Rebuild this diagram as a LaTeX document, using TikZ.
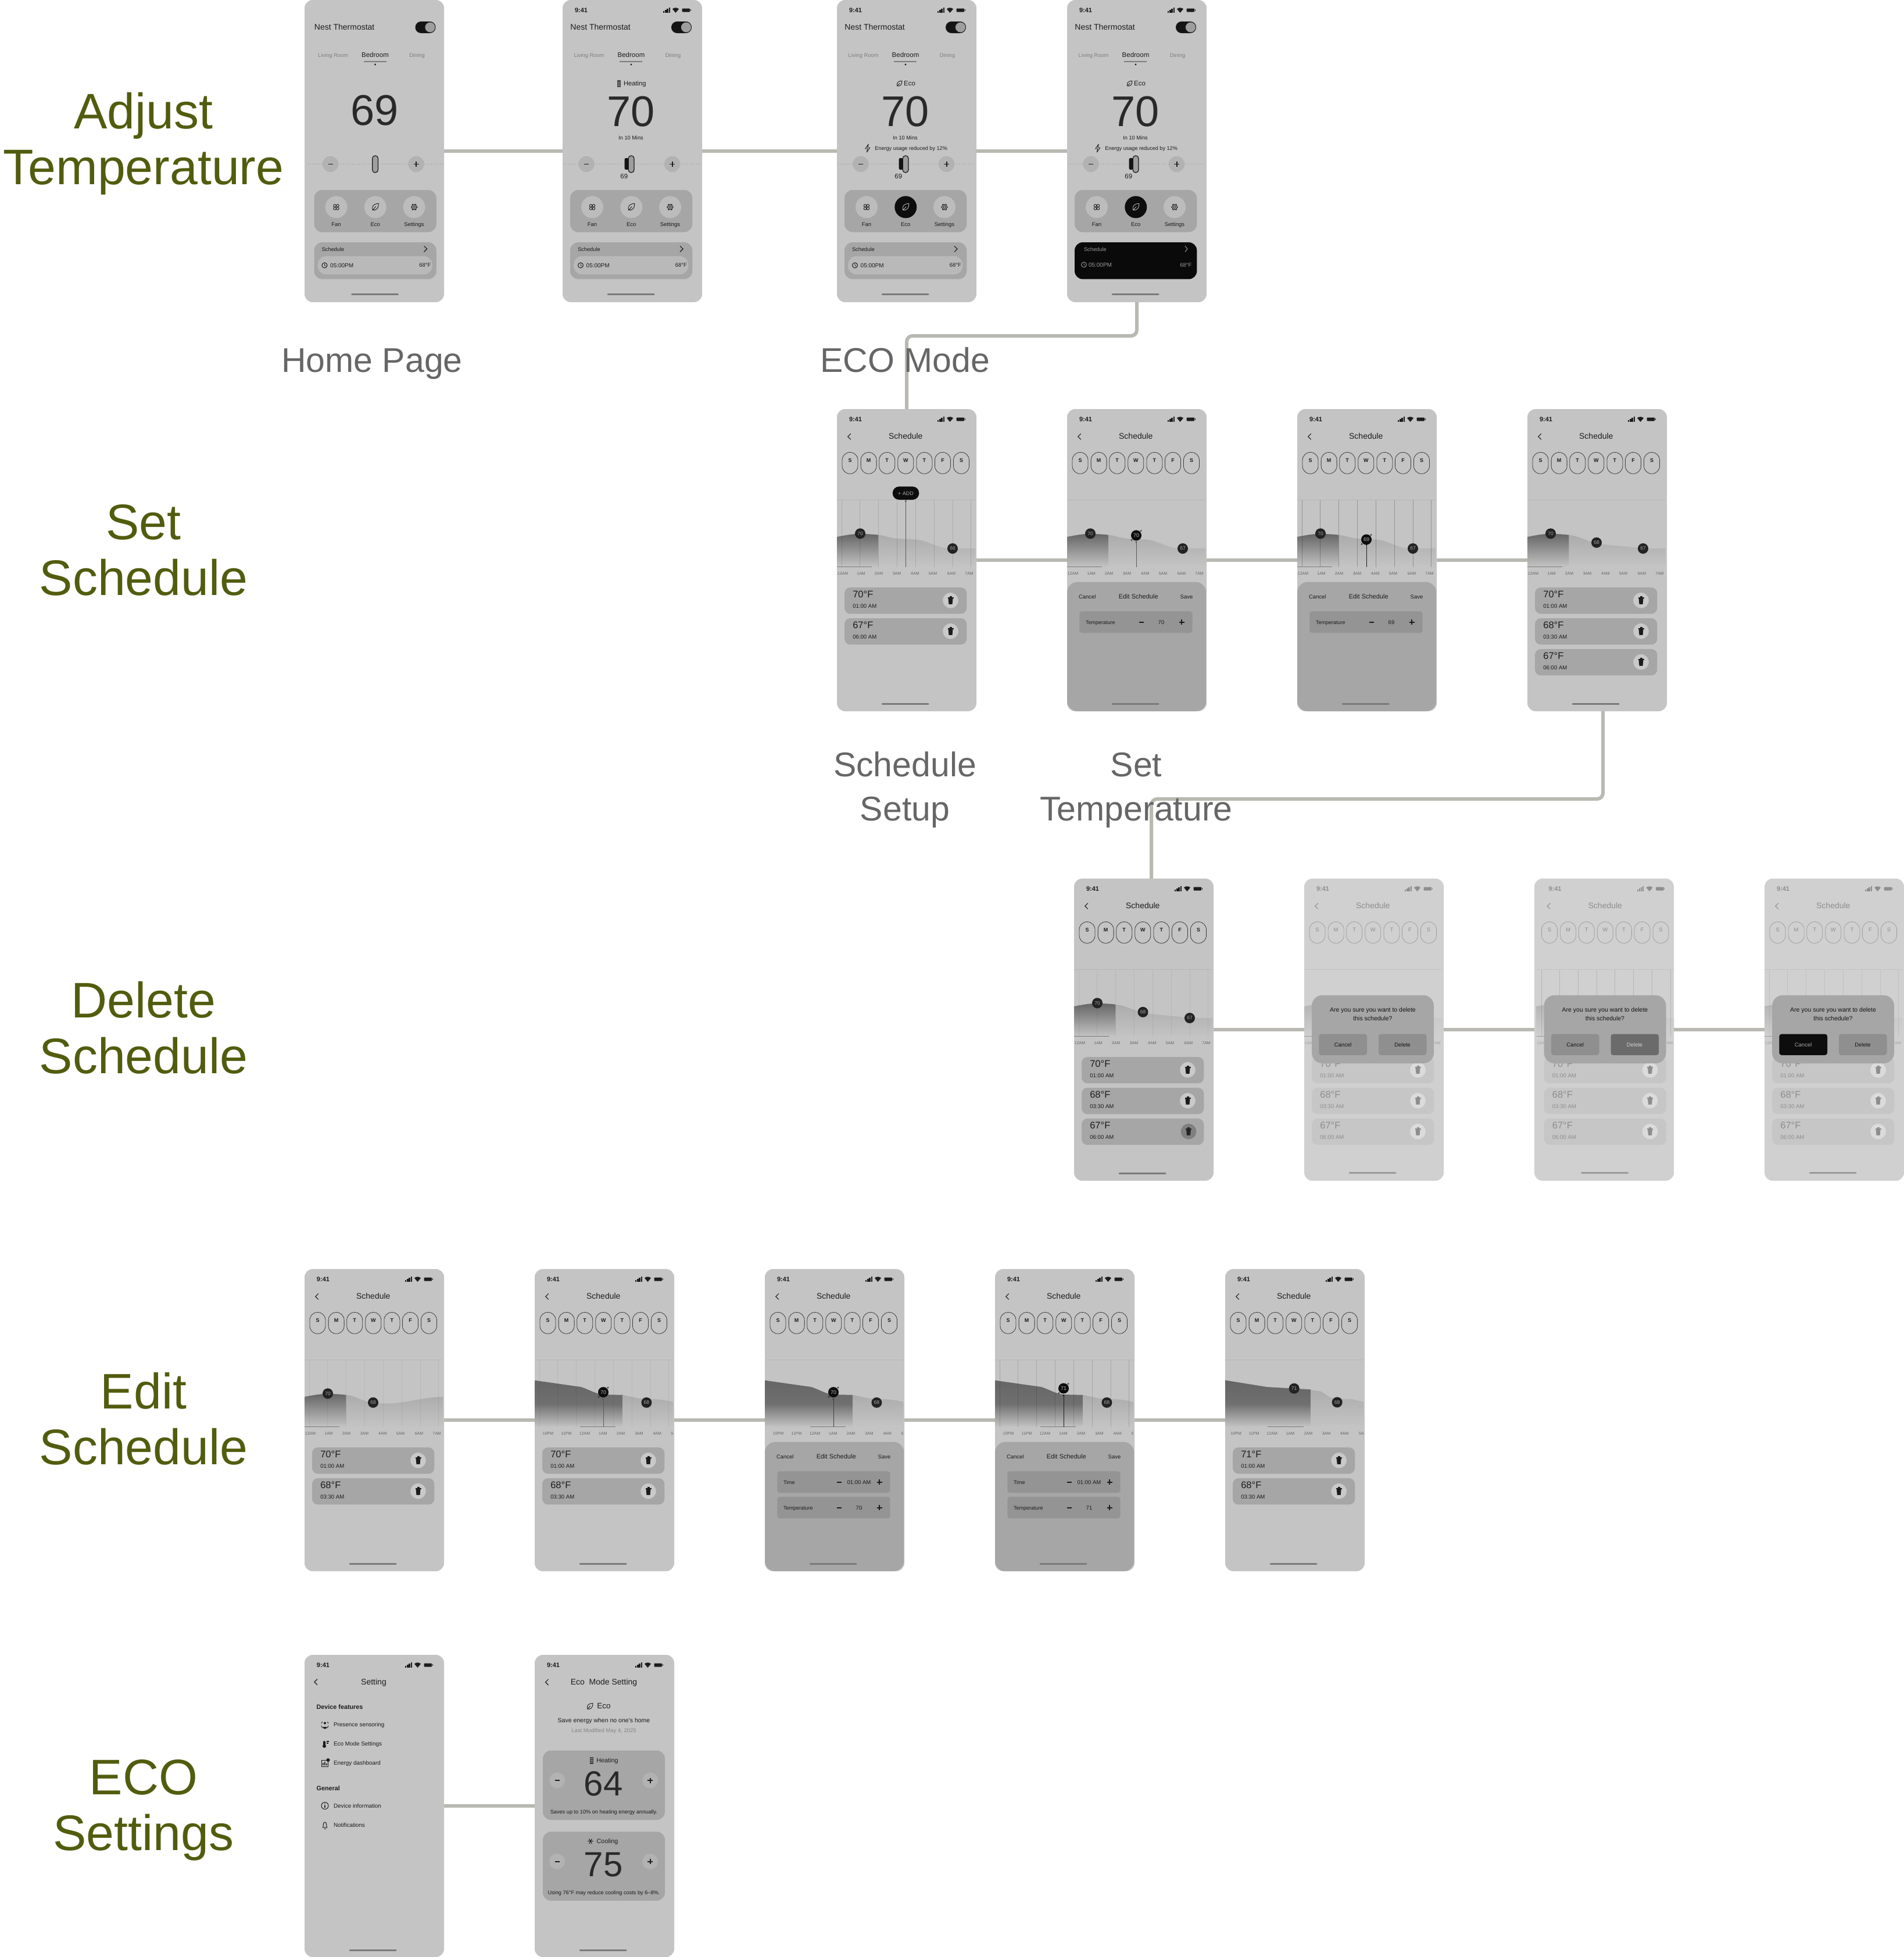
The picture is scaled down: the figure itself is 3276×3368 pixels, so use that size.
\documentclass[tikz,border=0pt]{standalone}
\usepackage{fontspec}
\setmainfont{Liberation Sans}
\definecolor{olivetxt}{HTML}{525C0E}
\definecolor{graytxt}{HTML}{666666}
\definecolor{connc}{HTML}{B9B9B2}
\newcommand\setnorm{%
 \definecolor{ink}{HTML}{1C1C1C}\definecolor{soft}{HTML}{7E7E7E}\definecolor{bgc}{HTML}{C4C4C4}%
 \definecolor{cardc}{HTML}{A6A6A6}\definecolor{circc}{HTML}{BCBCBC}\definecolor{trashc}{HTML}{C9C9C9}%
 \definecolor{dayc}{HTML}{3C3C3C}\definecolor{chd}{HTML}{666666}\definecolor{chl}{HTML}{ACACAC}%
 \definecolor{dotc}{HTML}{232323}\definecolor{barc}{HTML}{7A7A7A}\definecolor{timec}{HTML}{666666}%
 \definecolor{topl}{HTML}{B6B6B6}}
\newcommand\setfade{%
 \definecolor{ink}{HTML}{8E8E8E}\definecolor{soft}{HTML}{A0A0A0}\definecolor{bgc}{HTML}{D0D0D0}%
 \definecolor{cardc}{HTML}{C6C6C6}\definecolor{circc}{HTML}{D8D8D8}\definecolor{trashc}{HTML}{DBDBDB}%
 \definecolor{dayc}{HTML}{9A9A9A}\definecolor{chd}{HTML}{B4B4B4}\definecolor{chl}{HTML}{C6C6C6}%
 \definecolor{dotc}{HTML}{D0D0D0}\definecolor{barc}{HTML}{9A9A9A}\definecolor{timec}{HTML}{A0A0A0}%
 \definecolor{topl}{HTML}{C2C2C2}}
\setnorm
\tikzset{
 phone/.style={rectangle,rounded corners=14pt,minimum width=240pt,minimum height=520pt,inner sep=0pt,outer sep=0pt,fill=#1},
 tb/.style={inner sep=0pt,outer sep=0pt,text=ink,anchor=mid,yshift=-1pt},
 conn/.style={draw=connc,line width=6pt,rounded corners=10pt},
 hd/.style={inner sep=0pt,text=olivetxt,align=center,anchor=south,text depth=0pt,font=\fontsize{86}{96}\selectfont},
 sub/.style={inner sep=0pt,text=graytxt,align=center,anchor=south,text depth=0pt,font=\fontsize{59}{76}\selectfont},
 ic/.style={draw=ink,line width=1pt,fill=none}
}
\newcount\nctr
\newcommand\tx[5][]{\global\advance\nctr by 1 \node[tb,#1] (t\the\nctr) at (#2,#3) {\fontsize{#4}{#4}\selectfont #5};}
% icons
\newcommand\statusbar{%
 \tx[font=\bfseries]{32}{17.5}{11}{9:41}
 \foreach \i/\h in {0/3,1/5,2/7,3/9}{\fill[ink] ({173+\i*3.2},21.5) rectangle ({175.3+\i*3.2},{21.5-\h});}
 \fill[ink] (194.5,22) -- (189,15.5) .. controls (192,12.5) and (197,12.5) .. (200,15.5) -- cycle;
 \fill[ink,rounded corners=1pt] (205.5,14.5) rectangle (219,20.5);
 \fill[ink] (219.5,16.3) rectangle (220.5,18.7);}
\newcommand\homebar[1][506]{\draw[barc,line width=3pt,line cap=round] (78,#1) -- (157,#1);}
\newcommand\chev[3]{\draw[ink,line width=1.1pt] ({#1+#3*2.5},{#2-5}) -- ({#1-#3*2.5},#2) -- ({#1+#3*2.5},{#2+5});}
\newcommand\leaf[4][1]{\begin{scope}[shift={(#2,#3)},scale=#1]
 \draw[#4,line width=.9pt] (-4.5,5) .. controls (-7,-2) and (-2,-6) .. (5.5,-6) .. controls (6,1) and (2,6.5) .. (-4.5,5) -- (1,-1);\end{scope}}
\newcommand\fanic[2]{\begin{scope}[shift={(#1,#2)}]\foreach \a in {45,135,225,315}{\draw[ink,line width=.9pt] (\a:3.4) circle (2.3pt);}\end{scope}}
\newcommand\gearic[2]{\begin{scope}[shift={(#1,#2)}]\draw[ink,line width=.9pt] (0,0) circle (2pt);\draw[ink,line width=1pt] (0,0) circle (4.5pt);
 \foreach \a in {0,60,...,300}{\draw[ink,line width=1.6pt] (\a:4.2) -- (\a:6);}\end{scope}}
\newcommand\bolt[2]{\begin{scope}[shift={(#1,#2)}]\draw[ink,line width=.9pt,line join=round] (1.5,-7) -- (-4,1) -- (0,1) -- (-1.5,7) -- (4,-1) -- (0,-1) -- cycle;\end{scope}}
\newcommand\heatic[2]{\begin{scope}[shift={(#1,#2)}]\fill[ink!75!bgc] (-3,-6) rectangle (3,6);\foreach \i in {-3,0,3}{\draw[cardc,line width=.6pt] (-2,\i) -- (2,\i);}\end{scope}}
\newcommand\trashic[3][ink]{\begin{scope}[shift={(#2,#3)}]\fill[#1] (-5,-5.5) rectangle (5,-3.8);\fill[#1] (-2,-7) rectangle (2,-5.5);\fill[#1] (-4,-3.8) -- (4,-3.8) -- (3,6.5) -- (-3,6.5) -- cycle;\end{scope}}
\newcommand\minusic[2]{\draw[ink,line width=1.8pt] ({#1-4},#2) -- ({#1+4},#2);}
\newcommand\plusic[2]{\draw[ink,line width=1.8pt] ({#1-4.5},#2) -- ({#1+4.5},#2) ({#1},{#2-4.5}) -- ({#1},{#2+4.5});}
% home screen
\newcommand\tabs{%
 \tx{45.5}{95}{9.3}{\color{soft}Living Room}\tx{118}{95}{11.5}{Bedroom}\tx{190}{95}{9.3}{\color{soft}Dining}
 \draw[soft,line width=1.3pt] (98,106) -- (137,106);\fill[ink] (118,111) circle (1.6pt);}
\newcommand\homebase[2]{% #1 eco active, #2 schedule black
 \tx[anchor=mid west]{13.4}{48}{14}{Nest Thermostat}
 \fill[black!92,rounded corners=9.9pt] (187,37) rectangle (222,57);
 \fill[black!38,draw=black!92,line width=.6pt] (212.5,47) circle (9pt);
 \tabs
 \fill[cardc,rounded corners=14pt] (13,327) rectangle (223.3,399.5);
 \fill[circc] (51,356.4) circle (19pt);\fill[circc] (185,356.4) circle (19pt);
 \fanic{51}{356.4}\gearic{185}{356.4}
 \ifnum#1=1 \fill[black!95] (118.3,356.4) circle (19pt);\leaf{118.3}{356.4}{black!30}\else
  \fill[circc] (118.3,356.4) circle (19pt);\leaf{118.3}{356.4}{ink}\fi
 \tx{51}{385.7}{9.5}{Fan}\tx{118.3}{385.7}{9.5}{Eco}\tx{185}{385.7}{9.5}{Settings}
 \ifnum#2=1
  \fill[black!96,rounded corners=14pt] (13,417) rectangle (223.3,480.4);
  \tx[anchor=mid west,text=black!40]{29}{428.4}{9.3}{Schedule}
  \draw[black!40,line width=1pt] (203,423.4) -- (207,428.4) -- (203,433.4);
  \draw[black!40,line width=.9pt] (29,455.5) circle (4.5pt);\draw[black!40,line width=.7pt] (29,452.5) -- (29,455.5) -- (31,457);
  \tx[anchor=mid west,text=black!40]{37}{455.6}{10}{05:00PM}\tx[anchor=mid east,text=black!40]{214.5}{455.6}{9.5}{68°F}
 \else
  \fill[cardc,rounded corners=14pt] (13,417) rectangle (223.3,480.4);
  \tx[anchor=mid west]{26}{428.4}{9.3}{Schedule}\chev{204.6}{428.4}{-1}
  \fill[black!27.5,rounded corners=15pt] (19,440.8) rectangle (216.3,472.4);
  \draw[ink,line width=1pt] (31,456.6) circle (4.5pt);\draw[ink,line width=.8pt] (31,453.5) -- (31,456.6) -- (33,458);
  \tx[anchor=mid west]{40.7}{456.6}{10}{05:00PM}\tx[anchor=mid east]{214}{455.6}{9.5}{68°F}
 \fi
 \homebar}
\newcommand\bignum[1]{\tx[anchor=center,text=black!84]{117.5}{191}{74}{#1}}
\newcommand\inmins{\tx{117.5}{237}{9.2}{In 10 Mins}}
\newcommand\energy{\bolt{52.8}{255}\tx[anchor=mid west]{65.4}{255}{9.1}{Energy usage reduced by 12\%}}
\newcommand\slider[1]{% #1 1=with bar
 \draw[black!45,line width=.9pt,dash pattern=on 1.4pt off 2.6pt] (2,282.4) -- (238,282.4);
 \fill[black!30] (41,282.4) circle (13.7pt);\fill[black!30] (188.6,282.4) circle (13.7pt);
 \minusic{41}{282.4}\plusic{188.6}{282.4}
 \ifnum#1=1 \fill[black!92,rounded corners=2.5pt] (106.6,272) rectangle (113.6,292);
 \tx{105.8}{303.7}{11.5}{69}\fi
 \fill[black!38,draw=black!90,line width=1.2pt,rounded corners=4.4pt] (113.3,268) rectangle (122.9,297);}
% schedule screen
\newcommand\schedhead{\statusbar\chev{21.2}{47.3}{1}
 \tx{118.3}{47.7}{14}{Schedule}
 \foreach \x/\l in {22.5/S,54.6/M,86.2/T,118.3/W,150.4/T,182/F,214/S}{
  \draw[dayc,line width=.8pt,rounded corners=13.3pt] ({\x-13.5},74.5) rectangle ({\x+13.5},111.3);
  \tx[font=\bfseries]{\x}{88.3}{9}{\l}}}
\newcommand\gridl[1]{\draw[topl,line width=.8pt] (0,156.5) -- (238,156.5);
 \foreach \x in {8.6,39.8,71.5,103.6,135.2,167,199,230.6}{\draw[black,opacity=#1,line width=.7pt] (\x,156.5) -- (\x,272);}}
\newcommand\darkA{\shade[top color=chd,bottom color=bgc] (0,272) -- (0,220) .. controls (15,217) and (28,214.5) .. (40,215) .. controls (52,215) and (62,215.5) .. (71.5,216.7) -- (71.5,272) -- cycle;}
\newcommand\curveA{\darkA\shade[top color=chl,bottom color=bgc] (71.5,272) -- (71.5,216.7) .. controls (85,218) and (90,222) .. (105,223) .. controls (118,224) and (130,223) .. (145,226) .. controls (165,231) and (175,240) .. (199,240) -- (238,239.5) -- (238,272) -- cycle;}
\newcommand\curveD{\darkA\shade[top color=chl,bottom color=bgc] (71.5,272) -- (71.5,216.7) .. controls (90,219) and (105,228) .. (119,231) .. controls (140,235) and (170,236) .. (199,240) -- (238,240) -- (238,272) -- cycle;}
\newcommand\curveE{\darkA\shade[top color=chl,bottom color=bgc] (71.5,272) -- (71.5,216.7) .. controls (90,218) and (100,229) .. (118,230) .. controls (135,232) and (150,232) .. (170,229) .. controls (190,226) and (215,220) .. (238,220) -- (238,272) -- cycle;}
\newcommand\curveF{\shade[top color=chd,bottom color=bgc,middle color=chd!90!bgc] (0,272) -- (0,191.6) -- (80,203) .. controls (95,208) and (105,215) .. (118,216) -- (151,216.7) -- (151,272) -- cycle;
 \shade[top color=chl,bottom color=bgc] (151,272) -- (151,216.7) .. controls (165,219) and (175,223) .. (191,223.6) .. controls (210,223.6) and (225,225) .. (238,228.8) -- (238,272) -- cycle;}
\newcommand\curveG{\shade[top color=chd,bottom color=bgc,middle color=chd!90!bgc] (0,272) -- (0,191.4) -- (72,203) -- (118.7,205.6) -- (147,207.3) -- (147,272) -- cycle;
 \shade[top color=chl,bottom color=bgc] (147,272) -- (147,208.3) -- (165,210.7) .. controls (172,214) and (178,221) .. (185,222.5) -- (218,224) -- (238,228.6) -- (238,272) -- cycle;}
\newcommand\chartbar[2]{\draw[barc,line width=1.5pt] (#1,271.6) -- (#2,271.6);}
\newcommand\timesA{\foreach \x/\t in {10/12AM,41.6/1AM,72/2AM,103/3AM,134.4/4AM,165/5AM,197/6AM,227.6/7AM}{\tx{\x}{281.5}{7}{\color{timec}\t}}}
\newcommand\timesF{\foreach \x/\t in {23/10PM,54.5/11PM,86/12AM,117.4/1AM,148/2AM,179.5/3AM,210.7/4AM}{\tx{\x}{281.5}{7}{\color{timec}\t}}\tx{236.5}{281.5}{7}{\color{timec}5}}
\newcommand\pdot[3]{\fill[dotc] (#1,#2) circle (9pt);\tx[text=black!35,anchor=center,yshift=1pt]{#1}{#2}{8.5}{#3}}
\newcommand\seldot[5]{% x y text liney linecol
 \draw[#5,line width=1pt] (#1,#4) -- (#1,272);\fill[#5] (#1,#4) circle (1.6pt);
 \fill[black!95] (#1,#2) circle (9pt);\tx[text=black!30,anchor=center,yshift=1pt]{#1}{#2}{9}{#3}
 \draw[dotc,line width=.5pt] ({#1+8},{#2-8}) circle (1.3pt) ({#1-8},{#2+8}) circle (1.3pt);}
\newcommand\listcard[5][0]{% [trash state] ytop temp time trashx
 \fill[cardc,rounded corners=10pt] (13,#2) rectangle (223.3,{#2+45.4});
 \tx[anchor=mid west]{27.3}{{#2+13.7}}{16.5}{#3}
 \tx[anchor=mid west]{27.3}{{#2+31.6}}{9.6}{#4}
 \ifnum#1=1 \fill[black!50] (#5,{#2+22.3}) circle (13.3pt);\trashic[black!85]{#5}{#2+22.3}\else
 \fill[trashc] (#5,{#2+22.3}) circle (13.3pt);\trashic{#5}{#2+22.3}\fi}
\newcommand\sheet{%
 \fill[black!35,rounded corners=18pt] (0,297.6) rectangle (239.2,520);
 \tx{34.8}{322.4}{9.5}{Cancel}\tx{122.7}{322.4}{11}{Edit Schedule}\tx{205.5}{322.4}{9.5}{Save}}
\newcommand\sheetrow[3]{% y label value
 \fill[black!42,rounded corners=4pt] (21.4,#1) rectangle (215.5,{#1+37});
 \tx[anchor=mid west]{32}{{#1+18.8}}{9}{#2}
 \minusic{127.8}{#1+18.8}\tx{162}{{#1+18.8}}{9.5}{#3}\plusic{197}{#1+18.8}}
\newcommand\dialog[2]{% delete-active cancel-active
 \fill[black!35,rounded corners=18pt] (13.1,200.8) rectangle (223,318);
 \tx[text=black!92]{118}{226.3}{10.5}{Are you sure you want to delete}
 \tx[text=black!92]{118}{240.8}{10.5}{this schedule?}
 \ifnum#2=1 \fill[black!95,rounded corners=4pt] (25.3,267.6) rectangle (108,303.8);\tx[text=black!35]{66.6}{285.7}{9.5}{Cancel}
 \else \fill[black!44,rounded corners=4pt] (25.3,267.6) rectangle (108,303.8);\tx[text=black!92]{66.6}{285.7}{9.5}{Cancel}\fi
 \ifnum#1=1 \fill[black!58,rounded corners=4pt] (128,267.6) rectangle (210.5,303.8);\tx[text=black!18]{169}{285.7}{9.5}{Delete}
 \else \fill[black!44,rounded corners=4pt] (128,267.6) rectangle (210.5,303.8);\tx[text=black!92]{169}{285.7}{9.5}{Delete}\fi}
\newcommand\threecards{\listcard{307}{70°F}{01:00 AM}{195.5}\listcard{360}{68°F}{03:30 AM}{195.5}\listcard{413}{67°F}{06:00 AM}{195.5}}
\newcommand\delscreen[3]{% grid opacity, delete-active, cancel-active
 \setfade\statusbar\chev{21.2}{47.3}{1}
 \tx{118.3}{47.7}{14}{Schedule}
 \foreach \x/\l in {22.5/S,54.6/M,86.2/T,118.3/W,150.4/T,182/F,214/S}{
  \draw[dayc,line width=.7pt,rounded corners=13.3pt] ({\x-13.5},74.5) rectangle ({\x+13.5},111.3);
  \tx{\x}{88.3}{9.5}{\l}}
 \curveD\gridl{#1}\chartbar{0}{60}\timesA
 \threecards\homebar
 \setnorm\dialog{#2}{#3}}
\begin{document}
\begin{tikzpicture}[x=1pt,y=-1pt]
\useasboundingbox (0,0) rectangle (3276,3368);
% frames
\node[phone=bgc] (p11) at (644,260) {};
\node[phone=bgc] (p12) at (1088,260) {};
\node[phone=bgc] (p13) at (1560,260) {};
\node[phone=bgc] (p14) at (1956,260) {};
\node[phone=bgc] (p21) at (1560,964) {};
\node[phone=bgc] (p22) at (1956,964) {};
\node[phone=bgc] (p23) at (2352,964) {};
\node[phone=bgc] (p24) at (2748,964) {};
\node[phone=bgc] (p31) at (1968,1772) {};
\node[phone=black!18.5] (p32) at (2364,1772) {};
\node[phone=black!18.5] (p33) at (2760,1772) {};
\node[phone=black!18.5] (p34) at (3156,1772) {};
\node[phone=bgc] (p41) at (644,2444) {};
\node[phone=bgc] (p42) at (1040,2444) {};
\node[phone=bgc] (p43) at (1436,2444) {};
\node[phone=bgc] (p44) at (1832,2444) {};
\node[phone=bgc] (p45) at (2228,2444) {};
\node[phone=bgc] (p51) at (644,3108) {};
\node[phone=bgc] (p52) at (1040,3108) {};
% row 1
\begin{scope}[shift={(527.5,0)}]\homebase{0}{0}\tx[anchor=center,text=black!84]{117.5}{189}{74}{69}\slider{0}\end{scope}
\begin{scope}[shift={(968,0)}]\statusbar\homebase{0}{0}\heatic{97}{144}\tx[anchor=mid west]{105}{144}{11.2}{Heating}\bignum{70}\inmins\slider{1}\end{scope}
\begin{scope}[shift={(1440,0)}]\statusbar\homebase{1}{0}\leaf[.8]{107.5}{144}{ink}\tx{125}{144}{11.5}{Eco}\bignum{70}\inmins\energy\slider{1}\end{scope}
\begin{scope}[shift={(1836,0)}]\statusbar\homebase{1}{1}\leaf[.8]{107.5}{144}{ink}\tx{125}{144}{11.5}{Eco}\bignum{70}\inmins\energy\slider{1}\end{scope}
% row 2
\begin{scope}[shift={(1440,704)}]\schedhead\curveA\gridl{.12}\chartbar{0}{60}\timesA
 \fill[black!95,rounded corners=11pt] (95.8,133.4) rectangle (141.3,156);\tx[text=black!35]{118.5}{145}{9}{+ ADD}
 \draw[black!65,line width=1pt] (118.3,156) -- (118.3,272);\fill[black!75] (118.3,158.5) circle (1.5pt);
 \pdot{40}{214.3}{70}\pdot{199}{240}{66}
 \listcard{307}{70°F}{01:00 AM}{195.5}\listcard{360}{67°F}{06:00 AM}{195.5}\homebar[507]\end{scope}
\begin{scope}[shift={(1836,704)}]\schedhead\curveA\draw[topl,line width=.8pt] (0,156.5) -- (238,156.5);\chartbar{0}{60}\timesA
 \seldot{119}{217.4}{70}{228.8}{black!65}\pdot{40}{214.3}{70}\pdot{199}{240}{67}
 \sheet\sheetrow{348}{Temperature}{70}\homebar[507]\end{scope}
\begin{scope}[shift={(2232,704)}]\schedhead\curveA\gridl{.24}\chartbar{0}{60}\timesA
 \seldot{119}{224.5}{69}{233}{black!90}\pdot{40}{214.3}{70}\pdot{199}{240}{67}
 \sheet\sheetrow{348}{Temperature}{69}\homebar[507]\end{scope}
\begin{scope}[shift={(2628,704)}]\schedhead\curveD\draw[topl,line width=.8pt] (0,156.5) -- (238,156.5);\chartbar{0}{60}\timesA
 \pdot{40}{214.3}{70}\pdot{119}{229.8}{68}\pdot{199}{240}{67}\threecards\homebar[507]\end{scope}
% row 3
\begin{scope}[shift={(1848,1512)}]\schedhead\curveD\gridl{.06}\chartbar{0}{60}\timesA
 \pdot{40}{214.3}{70}\pdot{118.5}{229.8}{68}\pdot{199}{240}{67}
 \listcard{307}{70°F}{01:00 AM}{195.5}\listcard{360}{68°F}{03:30 AM}{195.5}\listcard[1]{413}{67°F}{06:00 AM}{197}\homebar[507]\end{scope}
\begin{scope}[shift={(2244,1512)}]\delscreen{0}{0}{0}\end{scope}
\begin{scope}[shift={(2643.5,1512)}]\begin{scope}\clip (-3.5,0) rectangle (236.5,520);\delscreen{.12}{1}{0}\end{scope}\end{scope}
\begin{scope}[shift={(3036,1512)}]\delscreen{.07}{0}{1}\end{scope}
% row 4
\begin{scope}[shift={(524,2184)}]\schedhead\curveE\gridl{.06}\chartbar{0}{60}\timesA
 \pdot{40}{214.3}{70}\pdot{118}{229.8}{68}
 \listcard{307}{70°F}{01:00 AM}{195.5}\listcard{360}{68°F}{03:30 AM}{195.5}\homebar[507]\end{scope}
\begin{scope}[shift={(920,2184)}]\schedhead\curveF\gridl{.06}\chartbar{78}{139}\timesF
 \seldot{118}{212}{70}{224.3}{black!65}\pdot{192.4}{229.8}{68}
 \listcard{307}{70°F}{01:00 AM}{195.5}\listcard{360}{68°F}{03:30 AM}{195.5}\homebar[507]\end{scope}
\begin{scope}[shift={(1316,2184)}]\schedhead\curveF\draw[topl,line width=.8pt] (0,156.5) -- (238,156.5);\chartbar{78}{139}\timesF
 \seldot{118}{212}{70}{224.3}{black!75}\pdot{192.4}{229.8}{68}
 \sheet\sheetrow{348}{Time}{01:00 AM}\sheetrow{392}{Temperature}{70}\homebar[507]\end{scope}
\begin{scope}[shift={(1712,2184)}]\schedhead\curveF\gridl{.14}\chartbar{78}{139}\timesF
 \seldot{118}{205.4}{71}{217.4}{black!90}\pdot{192.4}{229.8}{68}
 \sheet\sheetrow{348}{Time}{01:00 AM}\sheetrow{392}{Temperature}{71}\homebar[507]\end{scope}
\begin{scope}[shift={(2108,2184)}]\schedhead\curveG\draw[topl,line width=.8pt] (0,156.5) -- (238,156.5);\chartbar{72.7}{134.7}
 \foreach \x/\t in {18.7/10PM,49.7/11PM,80.7/12AM,112/1AM,143/2AM,174/3AM,205/4AM}{\tx{\x}{281.5}{7}{\color{timec}\t}}\tx{234.5}{281.5}{7}{\color{timec}5A}
 \pdot{118.7}{205.6}{71}\pdot{192.7}{229.3}{68}
 \listcard{307}{71°F}{01:00 AM}{195.7}\listcard{360}{68°F}{03:30 AM}{195.7}\homebar[507]\end{scope}
% row 5
\begin{scope}[shift={(524,2848)}]\statusbar\chev{19.5}{46.7}{1}\tx{119}{47.8}{14}{Setting}
 \tx[anchor=mid west,font=\bfseries]{20.6}{90}{10.8}{Device features}
 \tx[anchor=mid west]{50}{120}{9.9}{Presence sensoring}
 \tx[anchor=mid west]{50}{153}{9.9}{Eco Mode Settings}
 \tx[anchor=mid west]{50}{186}{9.9}{Energy dashboard}
 \tx[anchor=mid west,font=\bfseries]{20.6}{230}{10.8}{General}
 \tx[anchor=mid west]{50}{259.6}{9.9}{Device information}
 \tx[anchor=mid west]{50}{293}{9.9}{Notifications}
 % icons
 \fill[ink] (35,117.5) circle (2pt);\fill[ink] (31.5,124) arc (180:360:3.5pt) -- cycle;
 \draw[ink,line width=.9pt] (29,118) -- (30.5,115) (41,118) -- (39.5,115) (29,122) -- (31,126) (41,122) -- (39,126);
 \fill[ink,rounded corners=1.5pt] (32,148) rectangle (36,156);\fill[ink] (34,157) circle (3pt);\draw[ink,line width=1.2pt] (38,149) -- (42,149) (38,152) -- (40.5,152);
 \draw[ink,line width=1pt] (29,181) rectangle (40,192);\fill[ink] (31,186) rectangle (32.5,190) (34,184) rectangle (35.5,190) (37,187) rectangle (38.5,190);\fill[ink] (40.5,181) circle (3pt);
 \draw[ink,line width=1pt] (35,259.6) circle (6pt);\fill[ink] (34.4,258.5) rectangle (35.6,263);\fill[ink] (35,256.5) circle (.8pt);
 \draw[ink,line width=1pt] (31.5,297) .. controls (33,293) and (31.5,288) .. (35,288) .. controls (38.5,288) and (37,293) .. (38.5,297) -- cycle;\fill[ink] (33.5,298.5) rectangle (36.5,300);
 \homebar[508]\end{scope}
\begin{scope}[shift={(920,2848)}]\statusbar\chev{21}{47}{1}\tx{119}{47.8}{14}{Eco\ \ Mode Setting}
 \leaf[.9]{95}{88.7}{ink}\tx{119}{88.7}{13.5}{Eco}
 \tx{119}{112.8}{10.5}{Save energy when no one's home}
 \tx[text=black!47]{119}{130}{9.5}{Last Modified May 4, 2025}
 \fill[cardc,rounded corners=14pt] (14,164.5) rectangle (224,284);
 \heatic{98}{181.7}\tx{125}{181.7}{10.8}{Heating}
 \fill[black!30] (38.7,216) circle (13.5pt);\fill[black!30] (198.7,216) circle (13.5pt);\minusic{38.7}{216}\plusic{198.7}{216}
 \tx[anchor=center,text=black!84]{118.3}{221.3}{60}{64}
 \tx{119}{270}{9.2}{Saves up to 10\% on heating energy annually.}
 \fill[cardc,rounded corners=14pt] (14,304.3) rectangle (224,423);
 \foreach \a in {0,60,120}{\draw[ink,line width=1pt] (96,320.8) ++(\a:5) -- ++({\a+180}:10);}
 \tx{125}{320.8}{10.8}{Cooling}
 \fill[black!30] (38.7,355.6) circle (13.5pt);\fill[black!30] (198.7,355.6) circle (13.5pt);\minusic{38.7}{355.6}\plusic{198.7}{355.6}
 \tx[anchor=center,text=black!84]{118.3}{360}{60}{75}
 \tx{119}{409}{9.2}{Using 76°F may reduce cooling costs by 6–8\%.}
 \homebar[508]\end{scope}
% connectors
\draw[conn] (p11.east) -- (p12.west);
\draw[conn] (p12.east) -- (p13.west);
\draw[conn] (p13.east) -- (p14.west);
\draw[conn] (p14.south) -- ++(0,58) -| (p21.north);
\draw[conn] (p21.east) -- (p22.west);
\draw[conn] (p22.east) -- (p23.west);
\draw[conn] (p23.east) -- (p24.west);
\draw[conn] ([xshift=10pt]p24.south) -- ++(0,151) -| ([xshift=13pt]p31.north);
\draw[conn] (p31.east) -- (p32.west);
\draw[conn] (p32.east) -- (p33.west);
\draw[conn] (p33.east) -- (p34.west);
\draw[conn] (p41.east) -- (p42.west);
\draw[conn] (p42.east) -- (p43.west);
\draw[conn] (p43.east) -- (p44.west);
\draw[conn] (p44.east) -- (p45.west);
\draw[conn] (p51.east) -- (p52.west);
% labels
\node[hd] (h1) at (247,318) {Adjust\\Temperature};
\node[hd] (h2) at (247,1025) {Set\\Schedule};
\node[hd] (h3) at (247,1848) {Delete\\Schedule};
\node[hd] (h4) at (247,2521) {Edit\\Schedule};
\node[hd] (h5) at (247,3185) {ECO\\Settings};
\node[sub] (s1) at (640,641) {Home Page};
\node[sub] (s2) at (1557,641) {ECO Mode};
\node[sub] (s3) at (1557,1413) {Schedule\\Setup};
\node[sub] (s4) at (1955,1413) {Set\\Temperature};
\end{tikzpicture}
\end{document}
